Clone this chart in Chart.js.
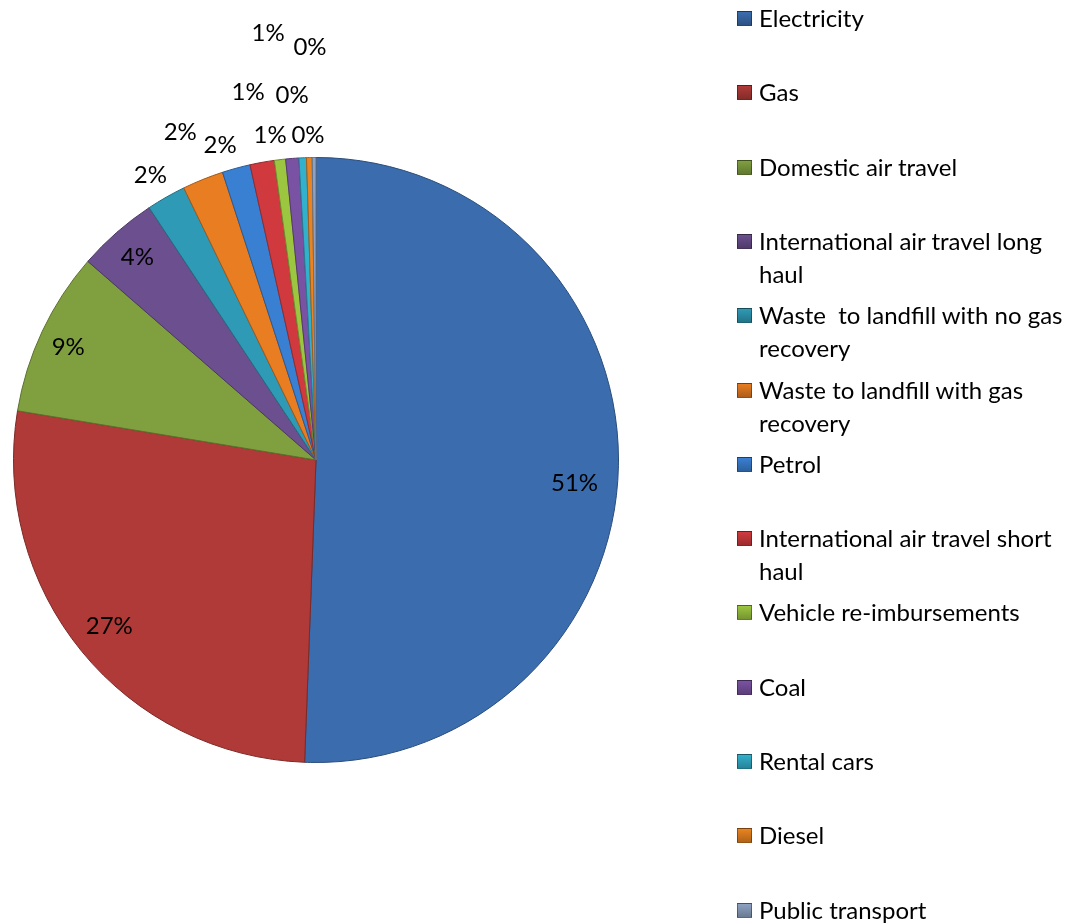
<!DOCTYPE html>
<html>
<head>
<meta charset="utf-8">
<script src="https://cdn.jsdelivr.net/npm/chart.js@4"></script>
<style>
  html, body { margin: 0; padding: 0; background: #fff; }
  body { width: 1082px; height: 924px; position: relative; overflow: hidden; font-family: Lato, "Open Sans", sans-serif; }
  #wrap { position: absolute; left: 0; top: 0; width: 1082px; height: 924px; }
  #legend { position: absolute; left: 737px; top: 0; width: 345px; }
  .item { position: absolute; left: 0; display: flex; align-items: flex-start; }
  .box { width: 15px; height: 15px; margin-top: 10px; margin-right: 7px; box-sizing: border-box; border: 1px solid rgba(0,0,0,0.35); flex: none; }
  .txt { font-size: 24px; line-height: 33px; color: #000; width: 318px; white-space: pre-wrap; }
</style>
</head>
<body>
<div id="wrap"><canvas id="viz" width="1082" height="924"></canvas></div>
<div id="legend"></div>
<script>
// categories + shares (%)
const categories = [
  'Electricity', 'Gas', 'Domestic air travel', 'International air travel long haul',
  'Waste  to landfill with no gas recovery', 'Waste to landfill with gas recovery', 'Petrol',
  'International air travel short haul', 'Vehicle re-imbursements', 'Coal', 'Rental cars',
  'Diesel', 'Public transport'
];
const shares = [50.6, 27.0, 8.8, 4.3, 2.1, 2.2, 1.5, 1.3, 0.6, 0.7, 0.4, 0.3, 0.2];

// office-ish palette
const colors = ['#3b6dae', '#b03a37', '#80a040', '#6b4f8f', '#2f9ab5', '#e87d22',
                '#3a80d2', '#d03a3e', '#9cc640', '#7a52a3', '#33b0cc', '#ea8420', '#8da2c2'];

// label placement: radius as fraction of pie radius, angle nudge in degrees
const labelRadius = [0.858, 0.876, 0.90, 0.893, 1.088, 1.172, 1.087, 1.235, 1.083, 1.418, 1.207, 1.073, 1.363];
const labelShift = [4, 0.5, -0.7, -0.2, -0.5, -0.56, -1.65, -0.2, -1.2, -1.9, -1.24, -0.15, -0.47];

const total = shares.reduce((a, b) => a + b, 0);

const pctLabels = {
  id: 'pctLabels',
  afterDatasetsDraw(chart){
    const c = chart.ctx;
    const meta = chart.getDatasetMeta(0);
    c.save();
    c.font = '24px Lato, "Open Sans", sans-serif';
    c.fillStyle = '#000';
    c.textAlign = 'center';
    c.textBaseline = 'middle';
    meta.data.forEach((arc, i) => {
      const p = arc.getProps(['x', 'y', 'startAngle', 'endAngle', 'outerRadius'], true);
      const mid = (p.startAngle + p.endAngle) / 2 + labelShift[i] * Math.PI / 180;
      const r = p.outerRadius * labelRadius[i];
      const txt = Math.round(shares[i] / total * 100) + '%';
      c.fillText(txt, p.x + Math.cos(mid) * r, p.y + Math.sin(mid) * r);
    });
    c.restore();
  }
};

function darker(hex, f){
  const n = parseInt(hex.slice(1), 16);
  const r = Math.round(((n >> 16) & 255) * f), g = Math.round(((n >> 8) & 255) * f), b = Math.round((n & 255) * f);
  return `rgb(${r},${g},${b})`;
}

new Chart(document.getElementById('viz'), {
  type: 'pie',
  data: {
    labels: categories,
    datasets: [{
      data: shares,
      backgroundColor: colors,
      borderColor: colors.map(c => darker(c, 0.7)),
      borderWidth: 1
    }]
  },
  options: {
    responsive: false,
    animation: false,
    layout: { padding: { left: 13, right: 463, top: 157, bottom: 161 } },
    plugins: {
      legend: { display: false },
      tooltip: { enabled: false }
    }
  },
  plugins: [pctLabels]
});

// legend (right side, fixed slot per entry)
const legendEl = document.getElementById('legend');
legendEl.innerHTML = categories.map((name, i) => `
  <div class="item" style="top:${1 + i * 74.3}px">
    <div class="box" style="background:linear-gradient(${colors[i]}, ${darker(colors[i], 0.75)})"></div>
    <div class="txt">${name}</div>
  </div>
`).join('');
</script>
</body>
</html>
